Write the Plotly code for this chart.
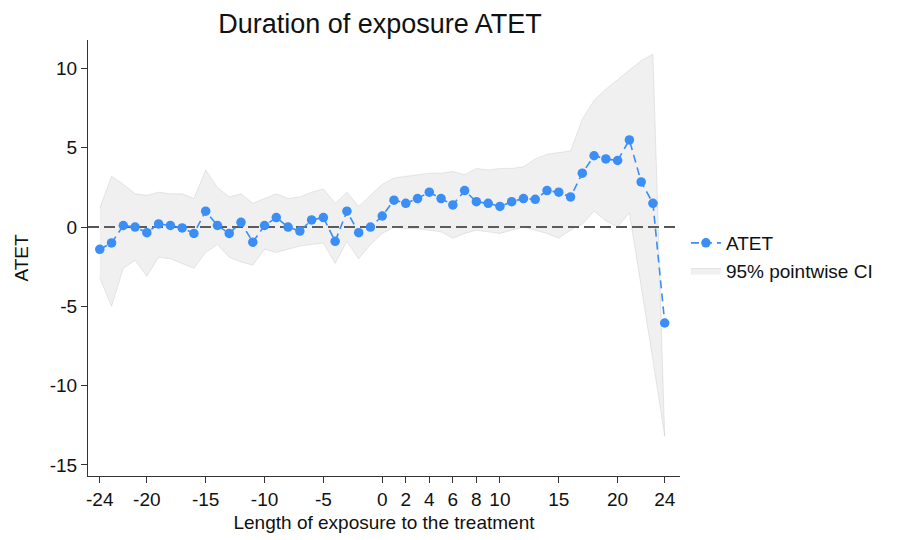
import plotly.graph_objects as go

# ---- data ----
periods = list(range(-24, 25))
atet = [-1.4, -1.0, 0.1, 0.0, -0.35, 0.2, 0.1, -0.05, -0.4, 1.0,
        0.1, -0.4, 0.3, -0.95, 0.1, 0.6, 0.0, -0.25, 0.45, 0.6,
        -0.9, 1.0, -0.35, 0.0, 0.7, 1.7, 1.5, 1.8, 2.2, 1.8,
        1.4, 2.3, 1.6, 1.5, 1.3, 1.6, 1.8, 1.75, 2.3, 2.2,
        1.9, 3.4, 4.5, 4.3, 4.2, 5.5, 2.85, 1.5, -6.05]
ci_upper = [1.2, 3.2, 2.7, 2.1, 2.0, 2.2, 2.1, 2.1, 1.8, 3.6,
            2.5, 1.9, 2.1, 1.5, 1.8, 2.1, 1.8, 1.9, 2.2, 2.4,
            1.5, 2.2, 1.3, 2.0, 2.7, 3.1, 3.2, 3.3, 3.4, 3.4,
            3.5, 3.3, 3.7, 3.6, 3.7, 3.7, 3.8, 4.3, 4.6, 4.7,
            4.8, 6.8, 8.0, 8.7, 9.3, 9.9, 10.5, 10.9, -12.6]
ci_lower = [-3.2, -5.0, -2.6, -2.1, -3.1, -1.9, -2.0, -2.3, -2.6, -1.6,
            -1.1, -1.9, -2.2, -2.4, -1.4, -1.6, -1.4, -1.2, -1.1, -1.0,
            -2.3, -0.9, -2.0, -1.1, -0.4, 0.0, -0.1, -0.1, -0.2, -0.3,
            -0.7, -0.4, -0.2, -0.3, -0.4, -0.2, 0.0, -0.2, -0.4, -0.7,
            -0.2, 0.2, 1.0, 0.4, 0.0, 0.9, -3.8, -8.4, -13.2]
x_ticks = [-24, -20, -15, -10, -5, 0, 2, 4, 6, 8, 10, 15, 20, 24]
y_ticks = [-15, -10, -5, 0, 5, 10]

FONT = "Liberation Sans, Arial, sans-serif"
BLUE = "#3a8ef5"
TXT = "#111111"

fig = go.Figure()

# confidence band as a closed polygon
fig.add_trace(go.Scatter(
    x=periods + periods[::-1],
    y=ci_upper + ci_lower[::-1],
    fill="toself",
    fillcolor="rgba(140,140,140,0.13)",
    line=dict(color="rgba(150,150,150,0.25)", width=0.8),
    mode="lines",
    name="95% pointwise CI",
    legendrank=2,
    hoverinfo="skip",
))

fig.add_trace(go.Scatter(
    x=periods, y=atet,
    mode="lines+markers",
    line=dict(color=BLUE, width=1.6, dash="8px,5px"),
    marker=dict(color=BLUE, size=9.5),
    name="ATET",
    legendrank=1,
))

fig.add_hline(y=0, line=dict(color="#555555", width=2, dash="11px,5px"),
              layer="below")

fig.update_layout(
    width=906, height=540,
    margin=dict(l=77, r=234, t=32, b=72),
    paper_bgcolor="white", plot_bgcolor="white",
    font=dict(family=FONT, size=19, color=TXT),
    title=dict(text="Duration of exposure ATET", x=0.4106, xanchor="center",
               y=0.972, yanchor="middle",
               font=dict(family=FONT, size=27, color=TXT)),
    legend=dict(x=1.01, y=0.578, xanchor="left", yanchor="top",
                font=dict(family=FONT, size=19, color=TXT),
                bgcolor="rgba(0,0,0,0)", tracegroupgap=5),
    showlegend=True,
)

fig.update_xaxes(
    range=[-25.0, 25.3], tickvals=x_ticks, ticktext=[str(v) for v in x_ticks],
    showgrid=False, zeroline=False, showline=True, linecolor="#333333",
    linewidth=1, ticks="outside", ticklen=6, tickcolor="#333333",
    tickfont=dict(family=FONT, size=19, color=TXT),
    title=dict(text="Length of exposure to the treatment", standoff=6,
               font=dict(family=FONT, size=19, color=TXT)),
)
fig.update_yaxes(
    range=[-15.7, 11.8], tickvals=y_ticks, ticktext=[str(v) for v in y_ticks],
    showgrid=False, zeroline=False, showline=True, linecolor="#333333",
    linewidth=1, ticks="outside", ticklen=6, tickcolor="#333333",
    tickfont=dict(family=FONT, size=19, color=TXT),
    title=dict(text="ATET", standoff=16,
               font=dict(family=FONT, size=19, color=TXT)),
)

fig.write_html("out.html")
